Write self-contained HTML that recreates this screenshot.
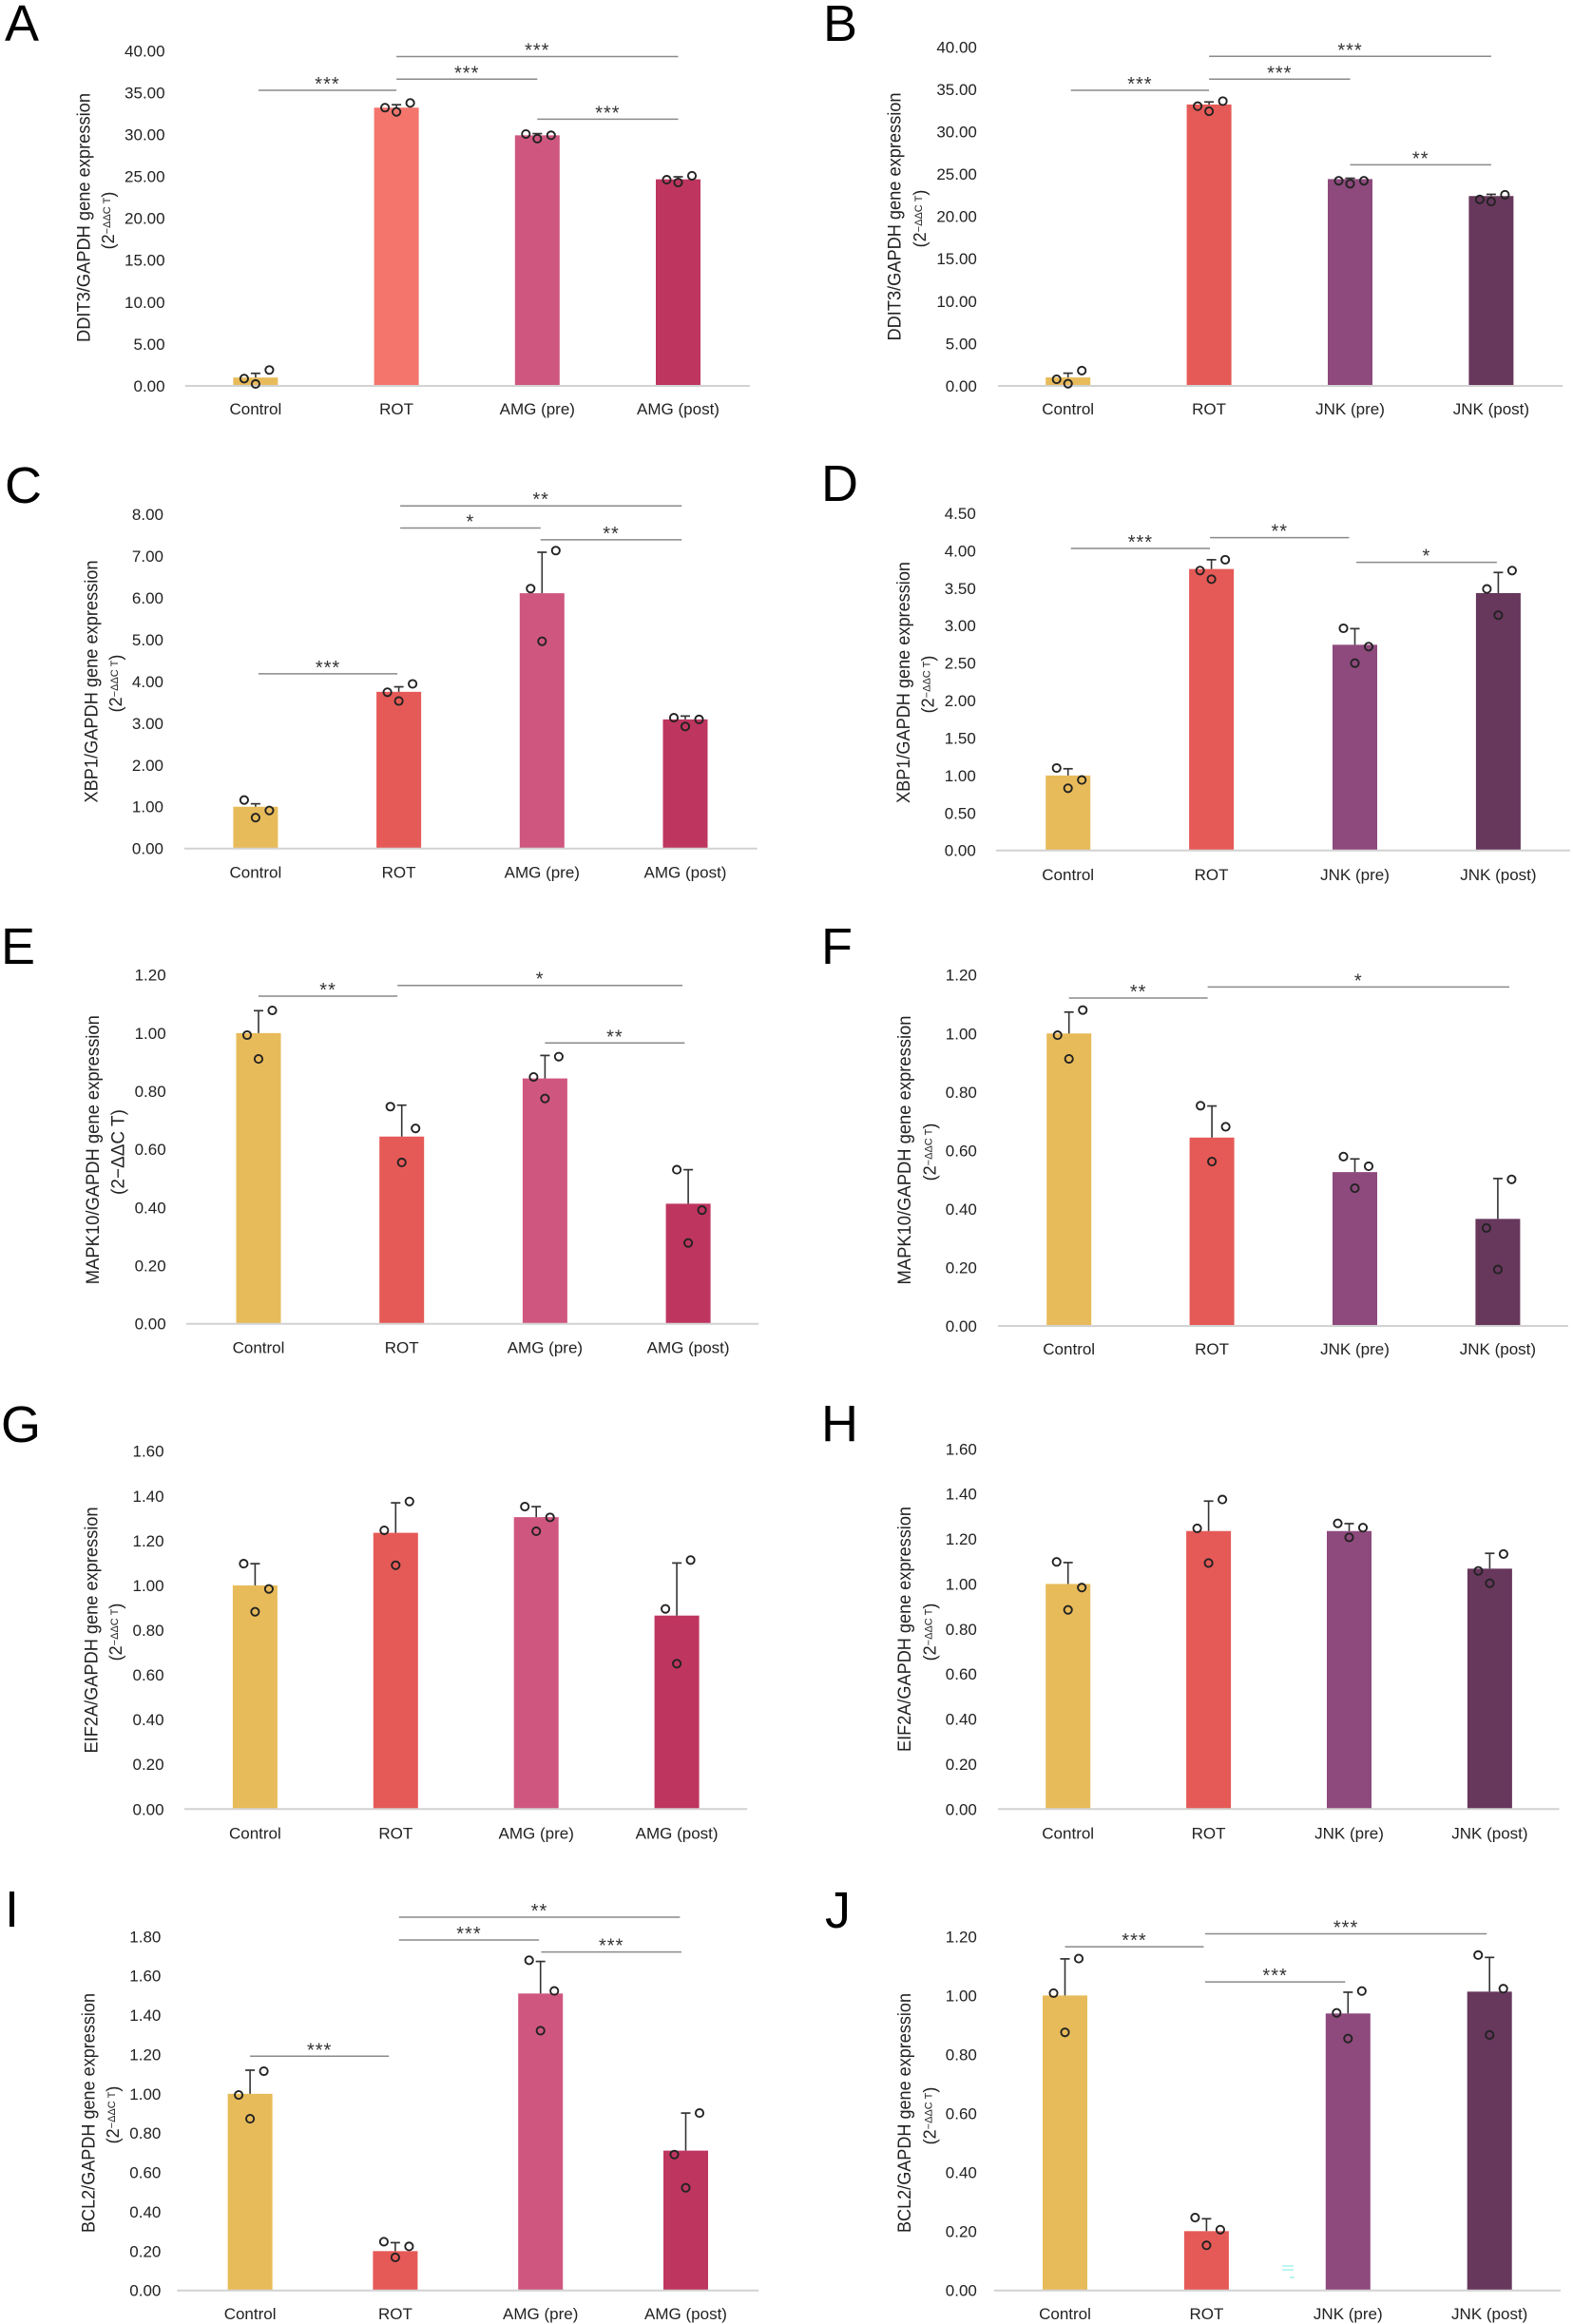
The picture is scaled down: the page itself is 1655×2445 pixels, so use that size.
<!DOCTYPE html>
<html lang="en">
<head>
<meta charset="utf-8">
<title>Gene expression bar charts, panels A to J</title>
<style>
  html, body { margin: 0; padding: 0; background: #ffffff; }
  svg { display: block; }
  text { font-family: "Liberation Sans", sans-serif; fill: #222222; }
</style>
</head>
<body>
<svg id="figure" xmlns="http://www.w3.org/2000/svg" width="1655" height="2445" viewBox="0 0 1655 2445">
  <rect x="0" y="0" width="1655" height="2445" fill="#ffffff"></rect>
</svg>
<script>
// ---------- Categories ----------
const categoriesAMG = ["Control", "ROT", "AMG (pre)", "AMG (post)"];
const categoriesJNK = ["Control", "ROT", "JNK (pre)", "JNK (post)"];

// ---------- Axis ticks ----------
const ticksA = [0, 5, 10, 15, 20, 25, 30, 35, 40];
const ticksB = [0, 5, 10, 15, 20, 25, 30, 35, 40];
const ticksC = [0, 1, 2, 3, 4, 5, 6, 7, 8];
const ticksD = [0, 0.5, 1, 1.5, 2, 2.5, 3, 3.5, 4, 4.5];
const ticksE = [0, 0.2, 0.4, 0.6, 0.8, 1, 1.2];
const ticksF = [0, 0.2, 0.4, 0.6, 0.8, 1, 1.2];
const ticksG = [0, 0.2, 0.4, 0.6, 0.8, 1, 1.2, 1.4, 1.6];
const ticksH = [0, 0.2, 0.4, 0.6, 0.8, 1, 1.2, 1.4, 1.6];
const ticksI = [0, 0.2, 0.4, 0.6, 0.8, 1, 1.2, 1.4, 1.6, 1.8];
const ticksJ = [0, 0.2, 0.4, 0.6, 0.8, 1, 1.2];

// ---------- Bar means ----------
const meansA = [1.0, 33.2, 29.9, 24.65];
const meansB = [1.0, 33.2, 24.4, 22.4];
const meansC = [1.0, 3.75, 6.11, 3.09];
const meansD = [1.0, 3.756, 2.745, 3.435];
const meansE = [1.0, 0.644, 0.844, 0.413];
const meansF = [1.0, 0.644, 0.526, 0.366];
const meansG = [1.0, 1.235, 1.305, 0.865];
const meansH = [1.0, 1.235, 1.235, 1.068];
const meansI = [1.0, 0.2, 1.51, 0.711];
const meansJ = [1.0, 0.201, 0.939, 1.013];

// ---------- Error bars (upper SD) ----------
const errorsA = [0.5, 0.35, 0.2, 0.3];
const errorsB = [0.5, 0.3, 0.1, 0.2];
const errorsC = [0.07, 0.12, 0.98, 0.08];
const errorsD = [0.09, 0.124, 0.215, 0.275];
const errorsE = [0.077, 0.108, 0.079, 0.117];
const errorsF = [0.073, 0.108, 0.045, 0.138];
const errorsG = [0.097, 0.134, 0.047, 0.235];
const errorsH = [0.095, 0.133, 0.033, 0.068];
const errorsI = [0.12, 0.043, 0.163, 0.191];
const errorsJ = [0.124, 0.042, 0.072, 0.116];

// ---------- Individual replicates per bar: left, centre, right ----------
const replicatesA = [[0.87, 0.23, 1.9], [33.2, 32.7, 33.76], [30.05, 29.5, 29.9], [24.6, 24.27, 25.07]];
const replicatesB = [[0.78, 0.26, 1.8], [33.0, 32.4, 33.6], [24.2, 23.85, 24.2], [22.0, 21.75, 22.55]];
const replicatesC = [[1.16, 0.74, 0.91], [3.74, 3.53, 3.94], [6.22, 4.96, 7.13], [3.13, 2.92, 3.09]];
const replicatesD = [[1.1, 0.83, 0.94], [3.735, 3.62, 3.88], [2.965, 2.5, 2.72], [3.49, 3.14, 3.735]];
const replicatesE = [[0.993, 0.911, 1.078], [0.747, 0.555, 0.672], [0.849, 0.775, 0.919], [0.53, 0.278, 0.391]];
const replicatesF = [[0.994, 0.913, 1.08], [0.753, 0.562, 0.681], [0.579, 0.471, 0.546], [0.335, 0.193, 0.501]];
const replicatesG = [[1.097, 0.882, 0.984], [1.246, 1.09, 1.375], [1.352, 1.242, 1.304], [0.895, 0.65, 1.113]];
const replicatesH = [[1.098, 0.885, 0.984], [1.247, 1.093, 1.375], [1.269, 1.207, 1.25], [1.058, 1.003, 1.133]];
const replicatesI = [[0.994, 0.873, 1.115], [0.248, 0.168, 0.224], [1.679, 1.321, 1.523], [0.691, 0.522, 0.902]];
const replicatesJ = [[1.008, 0.875, 1.125], [0.247, 0.153, 0.206], [0.941, 0.854, 1.015], [1.137, 0.866, 1.023]];

// ---------- Significance brackets: from category, to category, axis level, stars ----------
const significanceA = [[0.02, 1, 35.27, "***"], [1, 2, 36.6, "***"], [1, 3, 39.3, "***"], [2, 3, 31.83, "***"]];
const significanceB = [[0.02, 1, 34.88, "***"], [1, 2, 36.19, "***"], [1, 3, 38.88, "***"], [2, 3, 26.09, "**"]];
const significanceC = [[0.02, 0.99, 4.18, "***"], [1.01, 1.99, 7.67, "*"], [1.01, 2.975, 8.2, "**"], [1.99, 2.975, 7.39, "**"]];
const significanceD = [[0.02, 0.99, 4.03, "***"], [0.99, 1.96, 4.175, "**"], [2.01, 2.99, 3.845, "*"]];
const significanceE = [[0, 0.97, 1.127, "**"], [0.97, 2.96, 1.164, "*"], [2.0, 2.975, 0.966, "**"]];
const significanceF = [[0, 0.97, 1.121, "**"], [0.97, 3.08, 1.159, "*"]];
const significanceG = [];
const significanceH = [];
const significanceI = [[0, 0.956, 1.191, "***"], [1.025, 1.99, 1.782, "***"], [1.025, 2.96, 1.898, "**"], [2.005, 2.97, 1.721, "***"]];
const significanceJ = [[0, 0.98, 1.165, "***"], [0.99, 1.98, 1.046, "***"], [0.99, 2.98, 1.209, "***"]];

// ---------- Panel layout (pixel geometry and styling only, no data) ----------
const YELLOW = "#E8BB5A", RED = "#E55A57", SALMON = "#F3756C", PINK = "#CF577F", CRIMSON = "#BE3560", PURPLE = "#8E4A7D", PLUM = "#67375C";
const amgColors = [YELLOW, RED, PINK, CRIMSON];
const jnkColors = [YELLOW, RED, PURPLE, PLUM];
const JITTER = [-12, 0, 14.5];
const BAR_WIDTH = 47;

const panels = [
  { id: "A", gene: "DDIT3", cats: categoriesAMG, ticks: ticksA, means: meansA, errors: errorsA, reps: replicatesA, sig: significanceA, colors: [YELLOW, SALMON, PINK, CRIMSON],
    letterX: 5, letterY: 43, x0: 268.9, step: 148.2, axisL: 194.8, axisR: 788.8, y0: 406, yTop: 53.3, tickR: 173.6, titleX: 87.3, titleY: 229, titleLen: 262, subX: 113.8, subY: 232, catY: 430 },
  { id: "B", gene: "DDIT3", cats: categoriesJNK, ticks: ticksB, means: meansB, errors: errorsB, reps: replicatesB, sig: significanceB, colors: jnkColors,
    letterX: 866, letterY: 43, x0: 1123.7, step: 148.4, axisL: 1050, axisR: 1644.2, y0: 406, yTop: 49.3, tickR: 1027.9, titleX: 940.5, titleY: 228, titleLen: 261, subX: 967.9, subY: 230, catY: 430 },
  { id: "C", gene: "XBP1", cats: categoriesAMG, ticks: ticksC, means: meansC, errors: errorsC, reps: replicatesC, sig: significanceC, colors: amgColors,
    letterX: 5, letterY: 529, x0: 268.9, step: 150.7, axisL: 193.8, axisR: 796.7, y0: 892.7, yTop: 541, tickR: 172, titleX: 95.3, titleY: 717, titleLen: 255, subX: 121.8, subY: 719, catY: 917.7 },
  { id: "D", gene: "XBP1", cats: categoriesJNK, ticks: ticksD, means: meansD, errors: errorsD, reps: replicatesD, sig: significanceD, colors: jnkColors,
    letterX: 864, letterY: 527, x0: 1123.7, step: 150.9, axisL: 1047.9, axisR: 1652, y0: 894.7, yTop: 540, tickR: 1026.8, titleX: 950, titleY: 718, titleLen: 254, subX: 976.3, subY: 720, catY: 920 },
  { id: "E", gene: "MAPK10", cats: categoriesAMG, ticks: ticksE, means: meansE, errors: errorsE, reps: replicatesE, sig: significanceE, colors: amgColors, plainSub: true,
    letterX: 1, letterY: 1014, x0: 272, step: 150.7, axisL: 195.9, axisR: 798.3, y0: 1392.7, yTop: 1025.7, tickR: 174.7, titleX: 96.9, titleY: 1209.7, titleLen: 283, subX: 124.4, subY: 1212, catY: 1417.7 },
  { id: "F", gene: "MAPK10", cats: categoriesJNK, ticks: ticksF, means: meansF, errors: errorsF, reps: replicatesF, sig: significanceF, colors: jnkColors,
    letterX: 864, letterY: 1014, x0: 1124.7, step: 150.4, axisL: 1050, axisR: 1650, y0: 1395, yTop: 1025.7, tickR: 1027.9, titleX: 951, titleY: 1210, titleLen: 283, subX: 978.4, subY: 1212, catY: 1419 },
  { id: "G", gene: "EIF2A", cats: categoriesAMG, ticks: ticksG, means: meansG, errors: errorsG, reps: replicatesG, sig: significanceG, colors: amgColors,
    letterX: 1, letterY: 1517, x0: 268.4, step: 147.9, axisL: 193.8, axisR: 786.1, y0: 1903.3, yTop: 1526.7, tickR: 172.6, titleX: 95.3, titleY: 1715, titleLen: 259, subX: 121.8, subY: 1717, catY: 1928.7 },
  { id: "H", gene: "EIF2A", cats: categoriesJNK, ticks: ticksH, means: meansH, errors: errorsH, reps: replicatesH, sig: significanceH, colors: jnkColors,
    letterX: 864, letterY: 1516, x0: 1123.7, step: 147.9, axisL: 1050, axisR: 1640.5, y0: 1903.3, yTop: 1524.3, tickR: 1027.9, titleX: 951, titleY: 1714, titleLen: 258, subX: 978.4, subY: 1717, catY: 1928.7 },
  { id: "I", gene: "BCL2", cats: categoriesAMG, ticks: ticksI, means: meansI, errors: errorsI, reps: replicatesI, sig: significanceI, colors: amgColors,
    letterX: 5, letterY: 2027, x0: 263.1, step: 152.8, axisL: 186.3, axisR: 798.3, y0: 2409.7, yTop: 2037.3, tickR: 169.4, titleX: 92.6, titleY: 2223, titleLen: 252, subX: 119.1, subY: 2225, catY: 2434 },
  { id: "J", gene: "BCL2", cats: categoriesJNK, ticks: ticksJ, means: meansJ, errors: errorsJ, reps: replicatesJ, sig: significanceJ, colors: jnkColors,
    letterX: 868, letterY: 2028, x0: 1120.5, step: 148.9, axisL: 1045.8, axisR: 1642, y0: 2409.7, yTop: 2037.3, tickR: 1027.9, titleX: 951, titleY: 2223, titleLen: 252, subX: 978.4, subY: 2226, catY: 2434 }
];

const NS = "http://www.w3.org/2000/svg";
const figure = document.getElementById("figure");

function make(tag, parent, attrs, content) {
  const node = document.createElementNS(NS, tag);
  for (const key in attrs) node.setAttribute(key, attrs[key]);
  if (content !== undefined) node.textContent = content;
  parent.appendChild(node);
  return node;
}

function xScale(p, index) { return p.x0 + index * p.step; }
function yScale(p, value) {
  const domainMax = p.ticks[p.ticks.length - 1];
  return p.y0 - (value / domainMax) * (p.y0 - p.yTop);
}

panels.forEach(function (p) {
  const group = make("g", figure, {});
  
  

  const letter = make("text", group, { x: p.letterX, y: p.letterY, "font-size": 54, style: "fill:#000000" }, p.id);
  
  

  const title = make("text", group, { transform: "translate(" + (p.titleX + 7) + "," + p.titleY + ") rotate(-90)", "text-anchor": "middle", "font-size": 19, textLength: p.titleLen, lengthAdjust: "spacingAndGlyphs" }, p.gene + "/GAPDH gene expression");
  
  

  const sub = make("text", group, { transform: "translate(" + (p.subX + 6) + "," + p.subY + ") rotate(-90)", "text-anchor": "middle", "font-size": 18 });
  
  
  if (p.plainSub) {
    sub.textContent = "(2\u2212\u0394\u0394C T)";
    sub.setAttribute("font-size", 19);
  } else {
    make("tspan", sub, {}, "(2");
    make("tspan", sub, { dy: -4, "font-size": 11 }, "\u2212\u0394\u0394C T");
    make("tspan", sub, { dy: 4 }, ")");
  }

  p.ticks.forEach(function (t) {
    const tick = make("text", group, { x: p.tickR, y: yScale(p, t) + 6, "text-anchor": "end", "font-size": 17 }, t.toFixed(2));
    
    
  });

  p.cats.forEach(function (cat, i) {
    const cx = xScale(p, i);
    const top = yScale(p, p.means[i]);
    const bar = make("rect", group, { x: cx - BAR_WIDTH / 2, y: top, width: BAR_WIDTH, height: p.y0 - top, fill: p.colors[i] });
    
    

    const whiskerTop = yScale(p, p.means[i] + p.errors[i]);
    const stem = make("line", group, { x1: cx, x2: cx, y1: top, y2: whiskerTop, stroke: "#333333", "stroke-width": 1.6 });
    
    
    const cap = make("line", group, { x1: cx - 5, x2: cx + 5, y1: whiskerTop, y2: whiskerTop, stroke: "#333333", "stroke-width": 1.7 });
    
    

    const label = make("text", group, { x: cx, y: p.catY + 6, "text-anchor": "middle", "font-size": 17 }, cat);
    
    
  });

  const axis = make("line", group, { x1: p.axisL, x2: p.axisR, y1: p.y0, y2: p.y0, stroke: "#d2d2d2", "stroke-width": 2 });
  
  

  p.reps.forEach(function (values, i) {
    values.forEach(function (v, k) {
      const dot = make("circle", group, { cx: xScale(p, i) + JITTER[k], cy: yScale(p, v), r: 4.1, fill: "none", stroke: "#222222", "stroke-width": 1.9 });
      
      
    });
  });

  p.sig.forEach(function (s) {
    const x1 = xScale(p, s[0]);
    const x2 = xScale(p, s[1]);
    const y = yScale(p, s[2]);
    const rule = make("line", group, { x1: x1, x2: x2, y1: y, y2: y, stroke: "#8a8a8a", "stroke-width": 1.5 });
    
    
    const stars = make("text", group, { x: (x1 + x2) / 2, y: y, "text-anchor": "middle", "font-size": 20, "letter-spacing": 1, style: "fill:#333333" }, s[3]);
    
    
  });
});

// Small cyan scanning artefact visible in panel J
const artefact = make("g", figure, { fill: "#bdf5f2" });


make("rect", artefact, { x: 1349, y: 2383, width: 12, height: 2 });
make("rect", artefact, { x: 1349, y: 2387, width: 12, height: 2 });
make("rect", artefact, { x: 1357, y: 2395, width: 5, height: 2 });
</script>
</body>
</html>
